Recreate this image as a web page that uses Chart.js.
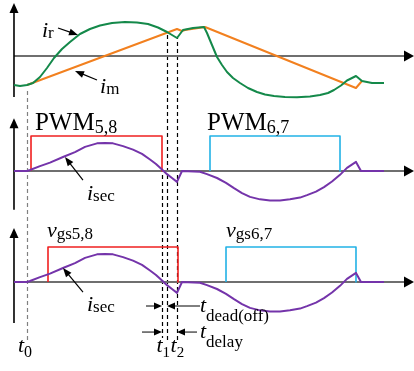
<!DOCTYPE html>
<html>
<head>
<meta charset="utf-8">
<script src="https://cdn.jsdelivr.net/npm/chart.js@4.4.1/dist/chart.umd.min.js"></script>
<style>
  html, body { margin: 0; padding: 0; background: #fff; }
  #stack { position: relative; width: 414px; height: 371px; overflow: hidden; }
  #stack canvas { position: absolute; left: 0; }
</style>
</head>
<body>
<div id="stack">
  <canvas id="p0" width="414" height="105" style="top:0px"></canvas>
  <canvas id="p1" width="414" height="113" style="top:105px"></canvas>
  <canvas id="p2" width="414" height="153" style="top:218px"></canvas>
</div>
<script>
// ---------- waveform data (time in arbitrary units, t0 = 0, t2 = 100) ----------

// resonant current i_r
const irTime   = [-8.67, -4.67, 0, 4, 8.67, 13.33, 18, 23.33, 28.67, 35.33, 42, 48.67, 56.67, 65.33, 73.33, 80.67, 87.33, 93.33, 96.67, 100, 104, 110.67, 118, 120, 123.33, 126.67, 130, 133.33, 137.33, 142, 147.33, 153.33, 158.67, 164.67, 172, 180, 188.67, 195.33, 200.67, 204.67, 209.33, 213.33, 216.67, 219.33, 223.33, 230, 238];
const irValues = [-2.9, -3.0, -2.9, -2.7, -2.1, -1.2, -0.2, 0.7, 1.4, 2.2, 2.7, 3.05, 3.3, 3.4, 3.35, 3.2, 2.85, 2.4, 2.1, 1.8, 2.6, 2.8, 2.9, 2.3, 1.1, -0.1, -0.9, -1.6, -2.2, -2.7, -3.2, -3.6, -3.85, -4.0, -4.1, -4.13, -4.05, -3.9, -3.7, -3.4, -2.95, -2.45, -2.2, -2.0, -2.5, -2.7, -2.7];

// magnetizing current i_m
const imTime   = [0, 100, 103.3, 105.3, 118.7, 219.3, 223.3];
const imValues = [-2.9, 2.7, 2.5, 2.6, 2.9, -3.2, -2.5];

// secondary current i_sec
const isecTime   = [-8.67, 0, 2, 8.67, 15.33, 24, 32, 38.67, 46.67, 52, 57.33, 64, 70.67, 76.67, 82, 86, 90, 93.33, 96.67, 100, 103.33, 115.33, 120, 126.67, 132.67, 138, 143.33, 148.67, 155.33, 162, 168.67, 175.33, 182, 186.67, 192.67, 198, 203.33, 208.67, 213.33, 219.33, 222.67, 238];
const isecValues = [0, 0, 0.03, 0.14, 0.24, 0.4, 0.54, 0.69, 0.79, 0.8, 0.79, 0.71, 0.61, 0.49, 0.33, 0.2, 0.04, -0.09, -0.2, -0.31, 0, -0.02, -0.09, -0.2, -0.34, -0.49, -0.63, -0.74, -0.81, -0.84, -0.84, -0.81, -0.76, -0.69, -0.59, -0.46, -0.3, -0.11, 0.09, 0.26, 0, 0];

// gate signals: [rising edge, falling edge]
const pwm58Edges = [2.67, 90];
const pwm67Edges = [122, 208.67];
const vgs58Edges = [14, 100.67];
const vgs67Edges = [132.67, 219.33];
const gateHigh = 1;

// switching instants
const tZero = 0;
const tOne = 93.33;
const tTwo = 100;
const tPwmOff = 90;

// ---------- helpers ----------
const SERIF = "'Liberation Serif','Times New Roman',serif";
const X_MIN = -18, X_MAX = 258;
const AXIS_FROM = -8.67;

const points = (ts, vs) => ts.map((t, i) => ({ x: t, y: vs[i] }));
const pulse = (edges, high) => [
  { x: edges[0], y: 0 }, { x: edges[0], y: high },
  { x: edges[1], y: high }, { x: edges[1], y: 0 }
];
const line = (data, color, width) => ({
  data, borderColor: color, borderWidth: width, showLine: true,
  pointRadius: 0, tension: 0, fill: false, borderJoinStyle: 'round'
});

const GREEN = '#14894a', ORANGE = '#f2801f', PURPLE = '#7434aa',
      RED = '#f02020', CYAN = '#22b2e6', AXIS = '#6f6f6f';

function arrowHead(ctx, x, y, angle, len, half) {
  ctx.save();
  ctx.translate(x, y);
  ctx.rotate(angle);
  ctx.beginPath();
  ctx.moveTo(0, 0);
  ctx.lineTo(-len, -half);
  ctx.lineTo(-len, half);
  ctx.closePath();
  ctx.fill();
  ctx.restore();
}

function drawText(ctx, x, y, parts) {
  let cx = x;
  parts.forEach(p => {
    ctx.font = (p.italic ? 'italic ' : '') + p.size + 'px ' + SERIF;
    ctx.fillText(p.text, cx, y + (p.dy || 0));
    cx += ctx.measureText(p.text).width + (p.gap || 0);
  });
}
const it = (text) => ({ text, italic: true, size: 22 });
const sub = (text, dy, size) => ({ text, size: size || 16, dy });

// dashed instant markers crossing panels: [panel, value]
const guides = [
  { t: tZero,   color: '#808080', from: [0, -3.2], to: [2, -1.74] },
  { t: tOne,    color: '#000000', from: [0, 2.4],  to: [2, -1.66] },
  { t: tTwo,    color: '#000000', from: [0, 1.8],  to: [2, -1.66] },
  { t: tPwmOff, color: '#000000', from: [1, 0],    to: [2, -1.6] }
];

const panels = [
  {
    id: 'p0', top: 0, yMin: -4.9, yMax: 5.6, axisTop: 5.3, axisBottom: -4.1,
    datasets: [
      line(points(irTime, irValues), GREEN, 2),
      line(points(imTime, imValues), ORANGE, 2)
    ],
    labels: [
      { t: 10, v: 1.9, parts: [it('i'), sub('r', 1, 17)] },
      { t: 48.7, v: -3.7, parts: [it('i'), sub('m', 1, 17)] }
    ],
    pointers: [
      { from: [20.67, 2.8], to: [34, 2.1] },
      { from: [46.67, -2.4], to: [32, -1.5] }
    ]
  },
  {
    id: 'p1', top: 105, yMin: -1.3429, yMax: 1.8857, axisTop: 1.51, axisBottom: -1.11,
    datasets: [
      line(points(isecTime, isecValues), PURPLE, 2),
      line(pulse(pwm58Edges, gateHigh), RED, 1.6),
      line(pulse(pwm67Edges, gateHigh), CYAN, 1.6)
    ],
    labels: [
      { t: 5.3, v: 1.17, parts: [{ text: 'PWM', size: 25 }, sub('5,8', 3, 18)] },
      { t: 120, v: 1.17, parts: [{ text: 'PWM', size: 25 }, sub('6,7', 3, 18)] },
      { t: 40, v: -0.83, parts: [it('i'), sub('sec', 1, 17)] }
    ],
    pointers: [
      { from: [37.33, -0.26], to: [25.33, 0.4] }
    ]
  },
  {
    id: 'p2', top: 218, yMin: -2.5429, yMax: 1.8286, axisTop: 1.54, axisBottom: -1.17,
    datasets: [
      line(points(isecTime, isecValues), PURPLE, 2),
      line(pulse(vgs58Edges, gateHigh), RED, 1.6),
      line(pulse(vgs67Edges, gateHigh), CYAN, 1.6)
    ],
    labels: [
      { t: 13.3, v: 1.29, parts: [it('v'), sub('gs5,8', 2, 17)] },
      { t: 132.7, v: 1.29, parts: [it('v'), sub('gs6,7', 2, 17)] },
      { t: 40, v: -0.83, parts: [it('i'), sub('sec', 1, 17)] },
      { t: -6, v: -2.0, parts: [it('t'), sub('0', 5, 16)] },
      { t: 86.3, v: -2.0, parts: [it('t'), sub('1', 5, 15)] },
      { t: 95.7, v: -2.0, parts: [it('t'), sub('2', 5, 15)] },
      { t: 115.3, v: -0.857, parts: [it('t'), sub('dead(off)', 9, 17)] },
      { t: 115.3, v: -1.6, parts: [it('t'), sub('delay', 9, 17)] }
    ],
    pointers: [
      { from: [37.33, -0.29], to: [24, 0.4] }
    ],
    spans: [
      { v: -0.686, left: tPwmOff, right: tOne, outL: 16, outR: 33 },
      { v: -1.43, left: tPwmOff, right: tTwo, outL: 20, outR: 20 }
    ]
  }
];

const wavePanel = {
  id: 'wavePanel',
  beforeDatasetsDraw(chart, _args, opts) {
    const P = opts.panel, idx = opts.index;
    const { ctx } = chart;
    const X = t => chart.scales.x.getPixelForValue(t);
    const Y = v => chart.scales.y.getPixelForValue(v);
    ctx.save();

    // dashed instants
    guides.forEach(g => {
      if (idx < g.from[0] || idx > g.to[0]) return;
      const x = Math.round(X(g.t)) + 0.5;
      const y0 = idx === g.from[0] ? Y(g.from[1]) : 0;
      const y1 = idx === g.to[0] ? Y(g.to[1]) : chart.height;
      ctx.strokeStyle = g.color;
      ctx.lineWidth = 1.2;
      ctx.setLineDash([4, 3]);
      ctx.lineDashOffset = (P.top + y0) % 7;
      ctx.beginPath();
      ctx.moveTo(x, y0);
      ctx.lineTo(x, y1);
      ctx.stroke();
    });
    ctx.setLineDash([]);

    // time axis with arrow
    const x0 = X(AXIS_FROM), xTip = X(X_MAX), y0 = Y(0);
    ctx.strokeStyle = AXIS;
    ctx.lineWidth = 2;
    ctx.beginPath();
    ctx.moveTo(x0, y0);
    ctx.lineTo(xTip - 8, y0);
    ctx.stroke();
    ctx.fillStyle = '#000';
    arrowHead(ctx, xTip, y0, 0, 10, 5.5);

    // vertical axis with arrow
    const yTop = Y(P.axisTop);
    ctx.strokeStyle = '#000';
    ctx.lineWidth = 1.6;
    ctx.beginPath();
    ctx.moveTo(x0, yTop + 8);
    ctx.lineTo(x0, Y(P.axisBottom));
    ctx.stroke();
    arrowHead(ctx, x0, yTop, -Math.PI / 2, 10, 4.5);
    ctx.restore();
  },
  afterDatasetsDraw(chart, _args, opts) {
    const P = opts.panel;
    const { ctx } = chart;
    const X = t => chart.scales.x.getPixelForValue(t);
    const Y = v => chart.scales.y.getPixelForValue(v);
    ctx.save();
    ctx.fillStyle = '#000';
    ctx.strokeStyle = '#000';
    ctx.textBaseline = 'alphabetic';

    P.labels.forEach(l => drawText(ctx, X(l.t), Y(l.v), l.parts));

    ctx.lineWidth = 1.2;
    P.pointers.forEach(p => {
      const xa = X(p.from[0]), ya = Y(p.from[1]);
      const xb = X(p.to[0]), yb = Y(p.to[1]);
      const ang = Math.atan2(yb - ya, xb - xa);
      ctx.beginPath();
      ctx.moveTo(xa, ya);
      ctx.lineTo(xb - 7 * Math.cos(ang), yb - 7 * Math.sin(ang));
      ctx.stroke();
      arrowHead(ctx, xb, yb, ang, 9, 3.5);
    });

    (P.spans || []).forEach(s => {
      const y = Y(s.v), xl = X(s.left), xr = X(s.right);
      ctx.lineWidth = 1;
      ctx.beginPath();
      ctx.moveTo(xl - s.outL, y); ctx.lineTo(xl - 6, y);
      ctx.moveTo(xr + 6, y); ctx.lineTo(xr + s.outR, y);
      ctx.stroke();
      arrowHead(ctx, xl, y, 0, 8, 3.5);
      arrowHead(ctx, xr, y, Math.PI, 8, 3.5);
    });
    ctx.restore();
  }
};

panels.forEach((P, index) => {
  new Chart(document.getElementById(P.id), {
    type: 'scatter',
    data: { datasets: P.datasets },
    options: {
      responsive: false,
      animation: false,
      events: [],
      layout: { padding: 0 },
      scales: {
        x: { type: 'linear', min: X_MIN, max: X_MAX, display: false },
        y: { type: 'linear', min: P.yMin, max: P.yMax, display: false }
      },
      plugins: {
        legend: { display: false },
        tooltip: { enabled: false },
        wavePanel: { panel: P, index }
      },
      elements: { line: { capBezierPoints: false } }
    },
    plugins: [wavePanel]
  });
});
</script>
</body>
</html>
